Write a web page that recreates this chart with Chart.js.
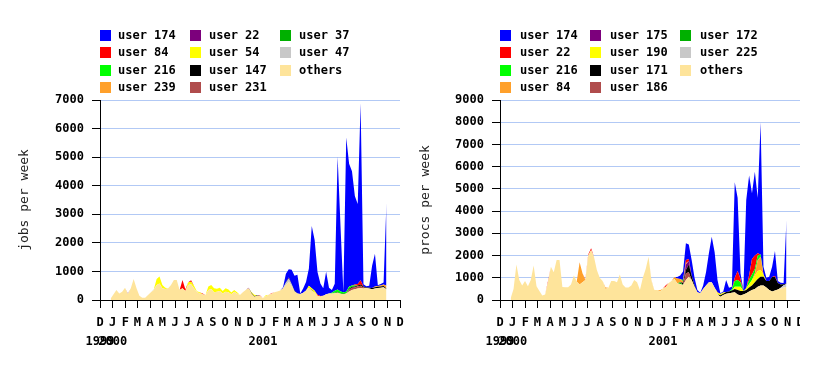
<!DOCTYPE html>
<html>
<head>
<meta charset="utf-8">
<script src="https://cdn.jsdelivr.net/npm/chart.js@4.4.0/dist/chart.umd.min.js"></script>
<style>
  body { margin: 0; background: #fff; width: 828px; height: 366px; position: relative; overflow: hidden; }
  canvas { position: absolute; top: 0; }
  #jobsCanvas { left: 0; }
  #procsCanvas { left: 414px; }
  .legend-box { position: absolute; width: 11px; height: 11px; }
  .legend-text { position: absolute; white-space: nowrap; font: bold 12px "DejaVu Sans Mono", monospace; line-height: 11px; color: #000; }
</style>
</head>
<body>
<canvas id="jobsCanvas" width="414" height="366"></canvas>
<canvas id="procsCanvas" width="386" height="366"></canvas>
<div id="legends"></div>
<script>
// weekly samples, first week starting 27 Dec 1999
const firstWeek = '1999-12-27';
const weekCount = 97;

// axis ticks: month initials from Dec 1999 to Dec 2001
const monthLetters = ['D','J','F','M','A','M','J','J','A','S','O','N','D','J','F','M','A','M','J','J','A','S','O','N','D'];
const yearLabels = { 0: '1999', 1: '2000', 13: '2001' };

// ---- jobs per week (left chart) ----
const jobsNames = ['user 174', 'user 84', 'user 216', 'user 239', 'user 22', 'user 54', 'user 147', 'user 231', 'user 37', 'user 47', 'others'];

const jobsUser174 = [
  0,0,0,0,0,0,0,0,0,0, 0,0,0,0,0,0,0,0,0,0, 0,0,0,0,0,0,0,0,0,0,
  0,0,0,0,0,0,0,0,0,0, 0,0,0,0,0,0,0,0,0,0, 0,0,0,0,0,0,0,0,0,0,
  40,300,290,500,530,650,20,150,300,600,
  2180,1780,800,440,260,790,200,100,250,4650,
  2300,20,5400,4300,4000,3100,2800,6200,80,40,
  70,780,1150,30,50,70,2900];
const jobsUser84 = [
  0,0,0,0,0,0,0,0,0,0, 0,0,0,0,0,0,0,0,0,0,
  0,0,0,0,0,290,60,0,50,0,
  0,0,30,0,0,0,0,0,0,0, 0,0,0,0,0,0,0,0,0,0,
  0,0,20,0,0,0,20,0,0,0, 0,0,0,0,0,0,0,0,0,0,
  0,0,30,20,0,0,0,0,0,0,
  0,0,0,0,0,30,50,150,0,0,
  0,0,0,0,0,0,0];
const jobsUser216 = [
  0,0,0,0,0,0,0,0,0,0, 0,0,0,0,0,0,0,0,0,0, 0,0,0,0,0,0,0,0,0,0,
  0,0,0,0,0,0,0,0,0,0, 0,0,0,0,0,0,0,0,0,0, 0,0,0,0,0,0,0,0,0,0,
  0,0,0,0,0,0,0,0,0,0,
  0,0,0,0,0,0,0,20,60,80,
  80,50,60,80,50,40,0,0,0,0,
  0,0,0,0,0,0,0];
const jobsUser239 = [
  0,0,0,0,0,0,0,0,0,0, 0,0,0,0,0,0,0,0,0,0, 0,0,0,0,0,0,0,0,0,0,
  0,0,0,0,0,0,0,0,0,0, 0,0,0,0,0,0,0,0,0,0, 0,0,0,0,0,0,0,0,0,0,
  0,0,0,0,0,0,0,0,0,0, 0,0,0,0,0,0,0,0,0,0, 0,0,0,0,0,0,0,0,0,0,
  0,0,20,30,40,50,100];
const jobsUser22 = [
  0,0,0,0,0,0,20,0,0,0, 0,0,0,0,0,0,0,0,0,0, 0,0,0,0,0,0,0,0,0,0,
  0,0,0,0,0,0,0,0,0,0, 0,0,0,0,0,0,0,0,20,0, 0,0,0,0,0,0,0,0,0,0,
  0,0,30,0,0,0,0,0,0,0, 0,0,0,0,0,0,0,0,0,0, 0,0,0,0,0,0,0,0,0,0,
  0,0,0,0,0,0,0];
const jobsUser54 = [
  0,0,0,0,0,0,0,0,0,0,
  0,0,0,0,0,0,210,240,115,40,
  0,0,0,0,0,0,0,95,90,90,
  20,40,0,0,120,140,140,100,115,85,
  120,100,60,60,40,0,0,0,0,30,
  50,0,0,0,40,0,0,0,0,0,
  0,0,0,0,0,0,0,0,0,80,
  60,70,0,0,0,0,0,0,0,0,
  0,0,0,0,0,0,0,0,0,0,
  0,0,0,0,0,0,0];
const jobsUser147 = [
  0,0,0,0,0,0,0,0,0,0, 0,0,0,0,0,0,0,0,0,0, 0,0,0,0,0,0,0,0,0,0,
  0,0,0,0,0,0,0,0,0,0,
  0,0,0,0,0,0,0,0,0,20,
  20,20,0,0,0,0,0,0,0,0,
  0,20,20,20,20,0,0,0,0,0,
  20,0,0,0,0,0,0,0,0,20,
  0,20,0,30,30,30,30,40,30,20,
  30,40,50,40,40,40,20];
const jobsUser231 = [
  0,0,0,0,0,0,0,0,0,0, 0,0,0,0,0,0,0,0,0,0, 0,0,0,0,0,0,0,0,0,0,
  0,0,0,0,0,0,0,0,0,0, 0,0,0,0,0,0,0,0,0,0, 0,0,0,0,0,0,0,0,0,0,
  0,0,0,0,0,0,0,0,0,0, 0,0,0,0,0,0,0,0,0,0,
  0,0,0,60,80,60,80,80,40,0,
  0,0,0,0,0,0,0];
const jobsUser37 = [
  0,0,0,0,0,0,0,0,0,0, 0,0,0,0,0,0,0,0,0,0, 0,0,0,0,0,0,0,0,0,0,
  0,0,0,0,0,0,0,0,0,0, 0,0,0,0,0,0,0,0,0,0, 0,0,0,0,0,0,0,0,0,0,
  0,0,0,0,0,0,0,0,0,0,
  0,0,0,0,0,0,0,0,20,20,
  0,0,0,0,0,0,0,0,0,0,
  0,0,0,0,0,0,0];
const jobsUser47 = [
  0,0,0,0,0,0,0,0,0,0,
  0,0,0,0,0,20,0,0,0,0,
  0,0,0,0,0,0,0,0,0,0, 0,0,0,0,0,0,0,0,0,0,
  0,0,0,0,0,0,0,0,0,0, 0,0,0,0,0,0,0,0,0,0,
  0,80,100,60,0,0,0,0,0,0,
  0,0,0,0,0,0,0,0,0,0, 0,0,0,0,0,0,0,0,0,0,
  0,0,0,0,0,0,0];
const jobsOthers = [
  50,200,350,230,290,430,210,410,735,410,
  150,80,80,175,270,350,525,580,410,385,
  410,525,700,700,350,410,315,525,550,410,
  290,230,200,175,350,385,270,290,315,230,
  290,270,200,290,230,175,270,350,410,230,
  115,150,140,60,130,180,220,270,300,330,
  410,520,640,480,300,230,210,250,330,420,
  330,250,150,120,150,200,230,230,240,250,
  220,200,230,300,350,380,400,420,400,420,
  400,380,400,420,430,450,380];

// ---- procs per week (right chart) ----
const procsNames = ['user 174', 'user 22', 'user 216', 'user 84', 'user 175', 'user 190', 'user 171', 'user 186', 'user 172', 'user 225', 'others'];

const procsUser174 = [
  0,0,0,0,0,0,0,0,0,0, 0,0,0,0,0,0,0,0,0,0, 0,0,0,0,0,0,0,0,0,0,
  0,0,0,0,0,0,0,0,0,0, 0,0,0,0,0,0,0,0,0,0,
  0,0,0,0,0,0,0,0,60,150,
  380,750,650,700,350,100,30,150,600,1300,
  2050,1600,550,30,40,540,170,120,4300,3300,
  250,50,3970,4490,2950,3775,2500,5950,350,140,
  200,470,1120,80,80,50,2860];
const procsUser22 = [
  0,0,0,0,0,0,0,0,0,0,
  0,0,0,50,0,0,0,0,0,0,
  0,0,0,0,0,0,30,50,80,0,
  0,0,0,0,0,0,0,0,0,0, 0,0,0,0,0,0,0,0,0,0,
  0,0,0,0,60,0,0,0,0,0,
  0,150,100,0,0,0,0,0,0,0,
  0,0,0,0,0,0,0,0,150,400,
  150,0,0,200,700,600,100,0,0,0,
  0,0,50,0,0,0,0];
const procsUser216 = [
  0,0,0,0,0,0,0,0,0,0, 0,0,0,0,0,0,0,0,0,0, 0,0,0,0,0,0,0,0,0,0,
  0,0,0,0,0,0,0,0,0,0, 0,0,0,0,0,0,0,0,0,0, 0,0,0,0,0,0,0,0,0,0,
  60,0,0,0,0,0,0,0,0,0,
  0,0,0,0,0,0,0,50,250,300,
  200,0,0,200,250,200,200,100,0,0,
  0,0,0,0,0,0,0];
const procsUser84 = [
  0,0,0,0,0,0,0,0,0,0, 0,0,0,0,0,0,0,0,0,0,
  0,0,0,0,1000,400,0,0,0,0,
  0,0,0,60,0,0,0,0,0,0,
  0,0,0,0,0,0,0,0,0,40,
  0,0,60,0,0,0,0,80,220,150,
  60,50,0,0,0,0,0,0,0,0,
  0,0,50,0,0,0,0,0,0,0,
  0,0,0,0,0,100,500,600,0,0,
  0,0,0,0,0,0,0];
const procsUser175 = [
  0,0,0,0,0,0,0,0,0,0, 0,0,0,0,0,0,0,0,0,0, 0,0,0,0,0,0,0,0,0,0,
  0,0,0,0,0,0,0,0,0,0, 0,0,0,0,0,0,0,0,0,0, 0,0,0,0,0,0,0,0,0,0,
  0,250,150,0,0,0,0,0,0,0,
  0,0,0,0,0,0,0,0,0,0, 0,0,0,0,0,0,0,0,0,0,
  0,0,0,0,0,0,0];
const procsUser190 = [
  0,0,0,0,0,0,0,0,0,0, 0,0,0,0,0,0,0,0,0,0, 0,0,0,0,0,0,0,0,0,0,
  0,0,0,0,0,0,0,0,0,0, 0,0,0,0,0,0,0,0,0,0, 0,0,0,0,0,0,0,0,0,0,
  0,0,0,0,0,0,0,0,0,0,
  0,0,50,60,60,0,0,0,100,150,
  200,0,80,150,250,300,350,300,100,0,
  0,0,0,0,0,0,0];
const procsUser171 = [
  0,0,0,0,0,0,0,0,0,0, 0,0,0,0,0,0,0,0,0,0, 0,0,0,0,0,0,0,0,0,0,
  0,0,0,0,0,0,0,0,0,0, 0,0,0,0,0,0,0,0,0,0, 0,0,0,0,0,0,0,0,0,0,
  100,150,350,200,50,0,0,0,0,0,
  0,0,0,60,60,80,80,100,150,200,
  200,150,150,180,200,300,350,400,400,300,
  400,650,600,300,150,50,20];
const procsUser186 = [
  0,0,0,0,0,0,0,0,0,0, 0,0,0,0,0,0,0,0,0,0, 0,0,0,0,0,0,0,0,0,0,
  0,0,0,0,0,0,0,0,0,0, 0,0,0,0,0,0,0,0,0,0, 0,0,0,0,0,0,0,0,0,0,
  0,300,200,0,0,0,0,0,0,0,
  0,0,0,0,0,0,0,0,0,0, 0,0,0,0,0,0,0,0,0,0,
  0,0,0,0,0,0,0];
const procsUser172 = [
  0,0,0,0,0,0,0,0,0,0, 0,0,0,0,0,0,0,0,0,0, 0,0,0,0,0,0,0,0,0,0,
  0,0,0,0,0,0,0,0,0,0, 0,0,0,0,0,0,0,0,0,0,
  0,0,0,0,0,0,0,0,0,80,
  0,0,0,0,0,0,0,0,0,0, 0,0,0,0,0,0,0,0,0,0, 0,0,0,0,0,0,0,0,0,0,
  0,0,0,0,0,0,0];
const procsUser225 = [
  0,0,0,0,0,0,0,0,0,0, 0,0,0,0,0,0,0,0,0,0, 0,0,0,0,0,0,0,0,0,0,
  0,0,0,0,0,0,0,0,0,0, 0,0,0,0,0,0,0,0,0,0, 0,0,0,0,0,0,0,0,0,0,
  0,0,0,0,0,0,0,0,0,0, 0,0,0,0,0,0,0,0,0,0, 0,0,0,0,0,0,0,0,0,0,
  0,0,0,0,30,100,120];
const procsOthers = [
  75,500,1600,900,650,850,620,900,1550,620,
  400,200,250,800,1500,1250,1800,1800,580,570,
  570,700,1100,830,700,800,900,2000,2250,1950,
  1350,1000,850,500,550,850,850,800,1150,700,
  560,560,650,900,800,450,1000,1400,1950,850,
  450,450,380,520,600,760,850,950,750,720,
  680,900,1050,900,600,350,300,500,650,800,
  800,550,250,150,220,280,300,330,350,250,
  200,250,300,380,450,500,600,650,650,560,
  450,380,430,470,520,560,600];

// colours per legend slot (same palette in both charts)
const palette = ['#0000ff', '#ff0000', '#00ff00', '#ffa02a', '#7c007c', '#ffff00', '#000000', '#b04c4c', '#00b000', '#c8c8c8', '#fee49b'];

const dayMs = 86400000;
const axisStart = Date.UTC(1999, 11, 1);
const monthDays = monthLetters.map((m, i) => (Date.UTC(1999, 11 + i, 1) - axisStart) / dayMs);
const weekDays = [];
const firstDay = (Date.parse(firstWeek) - axisStart) / dayMs;
for (let k = 0; k < weekCount; k++) weekDays.push(firstDay + 7 * k);

const tickFont = { family: 'DejaVu Sans Mono', weight: 'bold', size: 12 };
const gridBlue = '#b2c9f5';

function drawLegend(names, left, textLeft) {
    const holder = document.getElementById('legends');
    const rowTops = [30, 47, 65, 82];
    names.forEach((name, i) => {
        const col = Math.floor(i / 4), row = i % 4;
        const box = document.createElement('div');
        box.className = 'legend-box';
        box.style.left = left[col] + 'px';
        box.style.top = rowTops[row] + 'px';
        box.style.background = palette[i];
        holder.appendChild(box);
        const txt = document.createElement('div');
        txt.className = 'legend-text';
        txt.style.left = textLeft[col] + 'px';
        txt.style.top = rowTops[row] + 'px';
        txt.textContent = name;
        holder.appendChild(txt);
    });
}

function makeChart(canvasId, names, series, yMax, title, opts) {
    // stack bottom-up: others first, then reverse legend order
    const datasets = [];
    for (let i = series.length - 1; i >= 0; i--) {
        datasets.push({
            label: names[i],
            data: series[i],
            backgroundColor: palette[i],
            borderColor: 'rgba(0,0,0,0)',
            borderWidth: 0,
            pointRadius: 0,
            tension: 0,
            fill: datasets.length === 0 ? 'origin' : '-1'
        });
    }
    return new Chart(document.getElementById(canvasId), {
        type: 'line',
        data: { labels: weekDays, datasets },
        options: {
            responsive: false,
            animation: false,
            devicePixelRatio: 1,
            layout: { padding: { top: 100, left: 0, right: opts.rightPad, bottom: 0 } },
            plugins: { legend: { display: false }, tooltip: { enabled: false } },
            scales: {
                x: {
                    type: 'linear',
                    min: 0,
                    max: monthDays[monthDays.length - 1],
                    afterBuildTicks: s => { s.ticks = monthDays.map(v => ({ value: v })); },
                    afterFit: s => { s.height = 66; s.paddingLeft = 0; s.paddingRight = 0; },
                    ticks: {
                        autoSkip: false, maxRotation: 0, minRotation: 0, padding: 5,
                        color: '#000',
                        font: { family: 'DejaVu Sans Mono', weight: 'bold', size: 12, lineHeight: 1.6 },
                        callback: (v, i) => yearLabels[i] ? [monthLetters[i], yearLabels[i]] : monthLetters[i]
                    },
                    grid: { drawOnChartArea: false, drawTicks: true, tickLength: 8, color: '#000' },
                    border: { color: '#000' }
                },
                y: {
                    stacked: true,
                    min: 0,
                    max: yMax,
                    afterFit: s => { s.width = opts.yWidth; s.paddingTop = 0; s.paddingBottom = 0; },
                    ticks: { stepSize: 1000, padding: 8, color: '#000', font: tickFont, callback: v => String(v) },
                    grid: {
                        color: c => (c.tick && c.tick.value === 0) ? '#000' : gridBlue,
                        tickColor: '#000',
                        tickLength: 8
                    },
                    border: { color: '#000' },
                    title: {
                        display: true, text: title, color: '#222',
                        font: { family: 'DejaVu Sans Mono', size: 13 },
                        padding: { top: opts.titlePad, bottom: 0 }
                    }
                }
            }
        }
    });
}

makeChart('jobsCanvas', jobsNames,
    [jobsUser174, jobsUser84, jobsUser216, jobsUser239, jobsUser22, jobsUser54, jobsUser147, jobsUser231, jobsUser37, jobsUser47, jobsOthers],
    7000, 'jobs per week', { rightPad: 14, yWidth: 100, titlePad: 17 });

makeChart('procsCanvas', procsNames,
    [procsUser174, procsUser22, procsUser216, procsUser84, procsUser175, procsUser190, procsUser171, procsUser186, procsUser172, procsUser225, procsOthers],
    9000, 'procs per week', { rightPad: 0, yWidth: 86, titlePad: 4 });

drawLegend(jobsNames, [100, 190, 280], [118, 209, 299]);
drawLegend(procsNames, [500, 590, 680], [520, 610, 700]);
</script>
</body>
</html>
